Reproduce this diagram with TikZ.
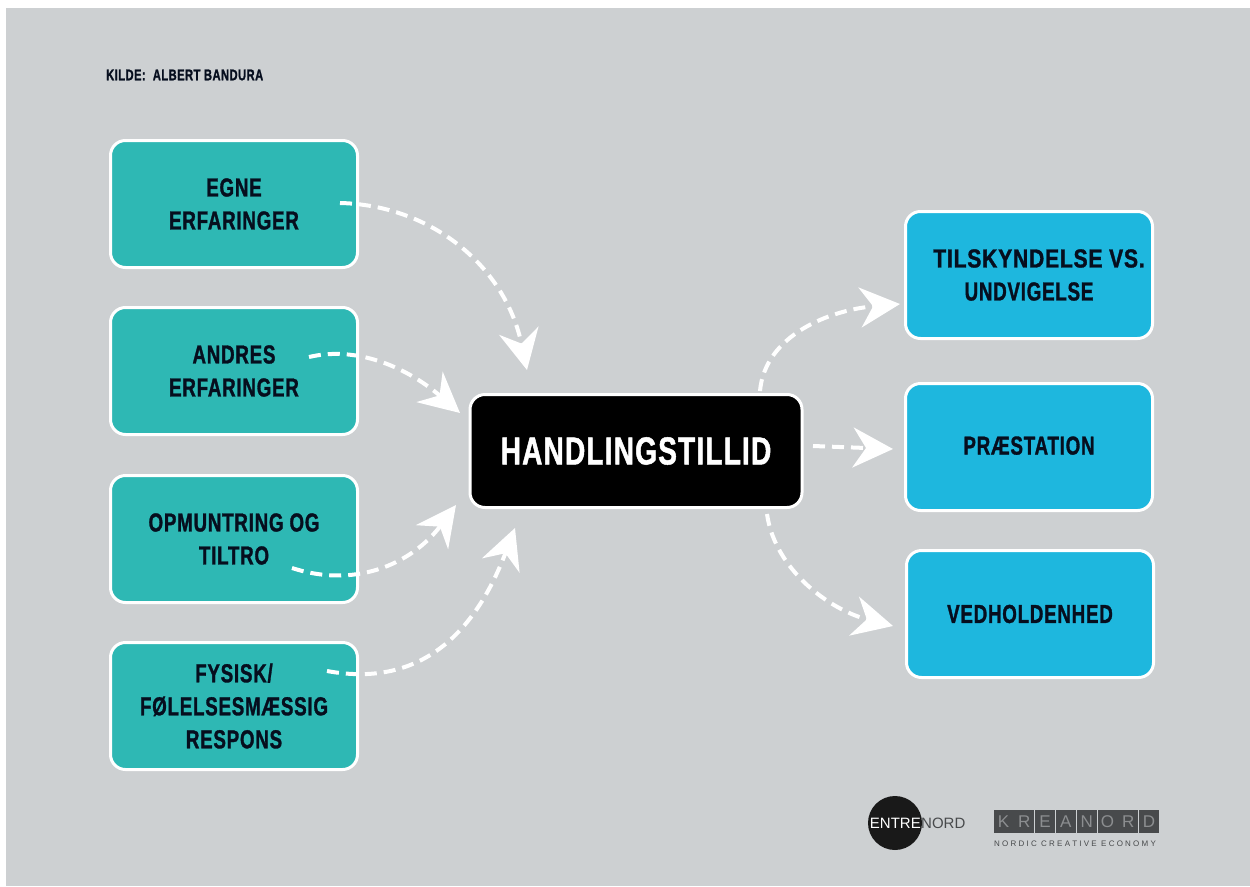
\documentclass[tikz,border=0pt]{standalone}
\usepackage{fontspec}
\setmainfont[FakeStretch=0.72,LetterSpace=3,FakeBold=1.2]{Liberation Sans}
\newfontfamily\logofont{Liberation Sans}
\usetikzlibrary{arrows.meta}
\definecolor{bggray}{RGB}{205,208,210}
\definecolor{tealbox}{RGB}{46,184,180}
\definecolor{bluebox}{RGB}{30,183,222}
\definecolor{inktext}{RGB}{6,14,30}
\definecolor{logogray}{RGB}{72,74,76}
\definecolor{logotext}{RGB}{140,142,144}
\tikzset{
	causebox/.style={draw=white,line width=3pt,fill=tealbox,rounded corners=15pt,minimum width=247pt,minimum height=127pt,align=center,inner sep=0pt,text=inktext,font=\bfseries\fontsize{26}{33}\selectfont},
	effectbox/.style={causebox,fill=bluebox},
	centerbox/.style={causebox,fill=black,text=white,minimum width=332pt,minimum height=113pt,font=\bfseries\fontsize{39}{40}\selectfont},
	flow/.style={draw=white,line width=4pt,dash pattern=on 12pt off 7pt,-{Stealth[length=40pt,width=40pt,inset=13pt]}},
	kreabox/.style={fill=logogray,text=logotext,minimum width=20pt,minimum height=23pt,inner sep=0pt,font=\logofont\fontsize{17}{17}\selectfont}
}
\begin{document}
\begin{tikzpicture}[x=1pt,y=-1pt,line cap=butt]
	\useasboundingbox (0,0) rectangle (1250,886);
	\fill[white] (0,0) rectangle (1250,886);
	\fill[bggray] (6,8) rectangle (1250,886);
	\node[anchor=west,inner sep=0pt,text=inktext,font=\bfseries\fontsize{15.5}{16}\selectfont] (kilde) at (106,75) {KILDE:\ \ ALBERT BANDURA};
	% boxes
	\node[causebox] (egne) at (234,204) {EGNE\\ERFARINGER};
	\node[causebox] (andres) at (234,371) {ANDRES\\ERFARINGER};
	\node[causebox] (opmuntring) at (234,539) {OPMUNTRING OG\\TILTRO};
	\node[causebox] (fysisk) at (234,706) {FYSISK/\\FØLELSESMÆSSIG\\RESPONS};
	\node[centerbox] (handling) at (636,451) {HANDLINGSTILLID};
	\node[effectbox] (tilskyndelse) at (1029,275) {\hspace*{20pt}\scalebox{1.12}[1]{TILSKYNDELSE VS.}\\UNDVIGELSE};
	\node[effectbox] (praestation) at (1029,447) {\raisebox{3pt}{PRÆSTATION}};
	\node[effectbox] (vedholdenhed) at (1030,614) {VEDHOLDENHED};
	% free ends of the arrows
	\coordinate (egnestart) at (340,203);
	\coordinate (egneend) at (527,370);
	\coordinate (andresstart) at (309,357);
	\coordinate (andresend) at (460,413);
	\coordinate (opmstart) at (292,568);
	\coordinate (opmend) at (456,505);
	\coordinate (fysstart) at (327,671);
	\coordinate (fysend) at (515,528);
	\coordinate (tilstart) at (760,391);
	\coordinate (tilend) at (900,304);
	\coordinate (prastart) at (813,446);
	\coordinate (praend) at (893,449);
	\coordinate (vedstart) at (767,514);
	\coordinate (vedend) at (893,626);
	\draw[flow] (egnestart) .. controls (430,205) and (505,265) .. (egneend);
	\draw[flow] (andresstart) .. controls (360,345) and (410,370) .. (andresend);
	\draw[flow] (opmstart) .. controls (360,590) and (415,560) .. (opmend);
	\draw[flow] (fysstart) .. controls (430,690) and (480,620) .. (fysend);
	\draw[flow] (tilstart) .. controls (765,335) and (830,310) .. (tilend);
	\draw[flow] (prastart) -- (praend);
	\draw[flow] (vedstart) .. controls (775,570) and (830,610) .. (vedend);
	% logos
	\node[circle,fill=black!90,minimum size=54pt,inner sep=0pt] (entre) at (895,823) {};
	\node[anchor=east,text=white,inner sep=0pt,font=\logofont\fontsize{15}{15}\selectfont] (entretext) at (921,823) {ENTRE};
	\node[anchor=west,text=logogray,inner sep=0pt,font=\logofont\fontsize{15}{15}\selectfont] (nordtext) at (921,823) {NORD};
	\foreach \c [count=\i from 0] in {K,R,E,A,N,O,R,D}{
		\node[kreabox] (krea\i) at ({1003.5+\i*20.8},{821.5}) {\c};
	}
	\node[anchor=center,inner sep=0pt,text=logogray,font=\logofont\fontsize{8}{8}\selectfont] (nordic) at (1075,844) {N O R D I C\ \ C R E A T I V E\ \ E C O N O M Y};
\end{tikzpicture}
\end{document}
